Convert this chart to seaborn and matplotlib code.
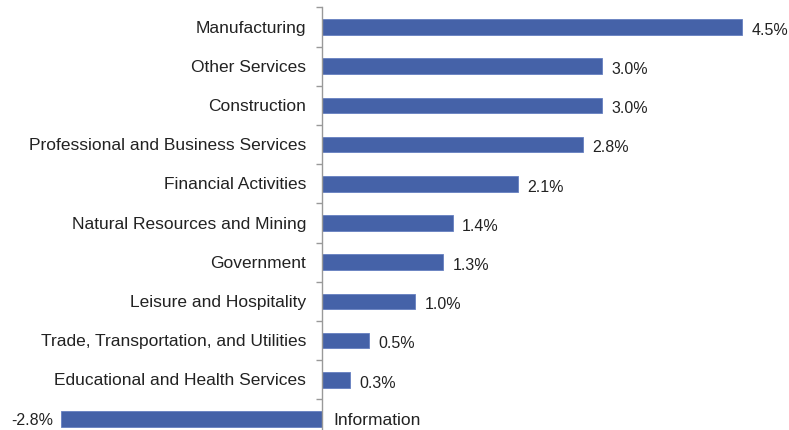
import matplotlib
matplotlib.use("Agg")
import matplotlib.pyplot as plt
import seaborn as sns
import numpy as np
import pandas as pd

sectors = [
    "Manufacturing",
    "Other Services",
    "Construction",
    "Professional and Business Services",
    "Financial Activities",
    "Natural Resources and Mining",
    "Government",
    "Leisure and Hospitality",
    "Trade, Transportation, and Utilities",
    "Educational and Health Services",
    "Information",
]
growth = [4.5, 3.0, 3.0, 2.8, 2.1, 1.4, 1.3, 1.0, 0.5, 0.3, -2.8]

sns.set_theme(style="white")
plt.rcParams["font.family"] = ["Liberation Sans", "DejaVu Sans"]

df = pd.DataFrame({"sector": sectors, "growth": growth})

fig = plt.figure(figsize=(7.89, 4.31), dpi=100)
ax = fig.add_axes([0, 0, 1, (431 - 8.4) / 431])

sns.barplot(data=df, x="growth", y="sector", orient="h", color="#4562A8",
            width=0.4, saturation=1, ax=ax, edgecolor="#6680C0", linewidth=0.6)

px_per_unit = 93.3
ax.set_xlim(-322 / px_per_unit, (789 - 322) / px_per_unit)
ax.set_ylim(10.28, -0.5)

for s in ["top", "right", "bottom"]:
    ax.spines[s].set_visible(False)
ax.spines["left"].set_position(("data", 0))
ax.spines["left"].set_color("#999999")
ax.spines["left"].set_linewidth(1.0)

ax.set_xticks([])
ax.set_yticks(np.arange(-0.5, len(sectors) - 0.5, 1.0))
ax.set_yticklabels([])
ax.tick_params(axis="y", direction="out", length=4, width=1, color="#999999", left=True)
ax.set_xlabel("")
ax.set_ylabel("")

fs_cat = 12.5
fs_val = 11.5
off = 0.1
for i, (name, v) in enumerate(zip(sectors, growth)):
    if v >= 0:
        ax.text(-0.17, i, name, ha="right", va="center", fontsize=fs_cat, color="#222222")
        ax.text(v + off, i + 0.06, f"{v:.1f}%", ha="left", va="center", fontsize=fs_val, color="#222222")
    else:
        ax.text(0.12, i, name, ha="left", va="center", fontsize=fs_cat, color="#222222")
        ax.text(v - 0.08, i, f"{v:.1f}%", ha="right", va="center", fontsize=fs_val, color="#222222")

fig.savefig("out.png", dpi=100)
